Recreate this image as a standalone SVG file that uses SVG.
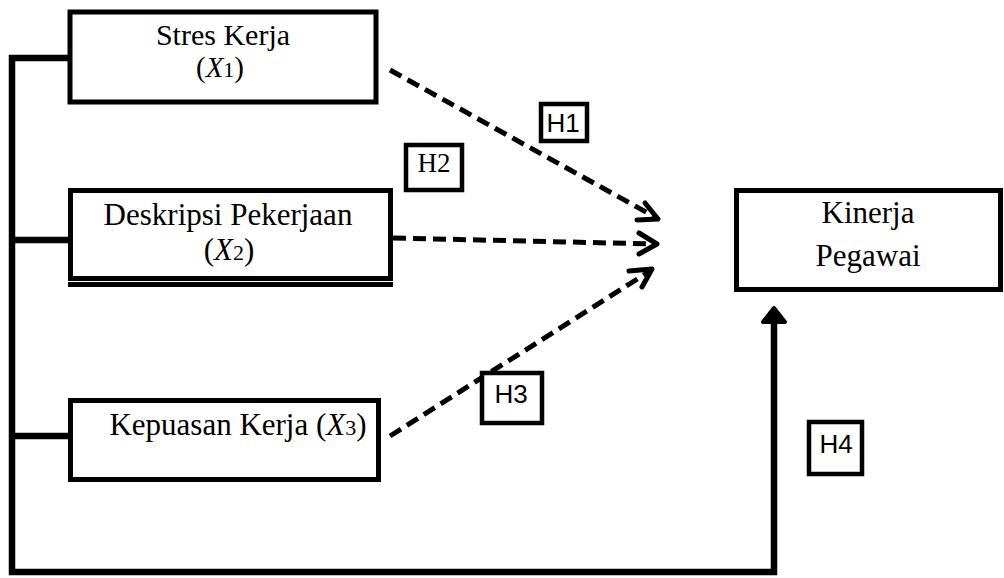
<svg xmlns="http://www.w3.org/2000/svg" width="1004" height="578" viewBox="0 0 1004 578">
<style>
.box{fill:#fff;stroke:#000;stroke-width:5}
.hbox{fill:#fff;stroke:#000;stroke-width:4.5}
.serif{font-family:"Liberation Serif","Times New Roman",serif;font-size:31px;fill:#000;text-anchor:middle}
.it{font-style:italic}
.sub{font-size:22px}
.sans{font-family:"Liberation Sans",Arial,sans-serif;font-size:26px;fill:#000;text-anchor:middle}
.dash{fill:none;stroke:#000;stroke-width:5;stroke-dasharray:13 7}
.head{fill:none;stroke:#000;stroke-width:5;stroke-linecap:round;stroke-linejoin:round}
.solid{fill:none;stroke:#000;stroke-width:6.5}
</style>
<g id="connectors">
<path class="solid" d="M70 58 H12 V572 H774 V318"/>
<line class="solid" x1="12" y1="240" x2="77" y2="240"/>
<line class="solid" x1="12" y1="436" x2="73" y2="436"/>
<path d="M774 308 L785 322 L763 322 Z" fill="#000" stroke="#000" stroke-width="4" stroke-linejoin="round"/>
<line class="dash" x1="390" y1="70" x2="655" y2="217"/>
<path class="head" d="M645 203 L658 219 L637 220"/>
<line class="dash" x1="393" y1="238" x2="655" y2="244"/>
<path class="head" d="M639 233 L657 244 L639 254"/>
<line class="dash" x1="390" y1="436" x2="650" y2="271"/>
<path class="head" d="M629 271 L652 269 L642 287"/>
</g>
<g id="stres">
<rect class="box" x="70" y="12" width="306" height="90"/>
<text class="serif" x="223" y="45" style="font-size:30px">Stres Kerja</text>
<text class="serif" x="220" y="77" style="font-size:29px">(<tspan class="it">X</tspan><tspan class="sub">1</tspan>)</text>
</g>
<g id="deskripsi">
<rect class="box" x="70.5" y="190.5" width="320" height="88"/>
<line x1="68" y1="284.5" x2="393" y2="284.5" stroke="#000" stroke-width="5"/>
<text class="serif" x="228" y="225">Deskripsi Pekerjaan</text>
<text class="serif" x="229" y="260">(<tspan class="it">X</tspan><tspan class="sub">2</tspan>)</text>
</g>
<g id="kepuasan">
<rect class="box" x="70.5" y="400.5" width="308" height="79"/>
<text class="serif" x="238" y="435">Kepuasan Kerja (<tspan class="it">X</tspan><tspan class="sub">3</tspan>)</text>
</g>
<g id="kinerja">
<rect class="box" x="736.5" y="190.5" width="264" height="99"/>
<text class="serif" x="868" y="223">Kinerja</text>
<text class="serif" x="868" y="266">Pegawai</text>
</g>
<g id="h1">
<rect class="hbox" x="541" y="104" width="46" height="37"/>
<text class="sans" x="563" y="132">H1</text>
</g>
<g id="h2">
<rect class="hbox" x="406" y="145" width="56" height="45"/>
<text class="serif" x="434" y="172" style="font-size:27px">H2</text>
</g>
<g id="h3">
<rect class="hbox" x="482" y="373" width="60" height="50"/>
<text class="sans" x="511" y="403">H3</text>
</g>
<g id="h4">
<rect class="hbox" x="809" y="422" width="53" height="52"/>
<text class="sans" x="836" y="453">H4</text>
</g>
</svg>
